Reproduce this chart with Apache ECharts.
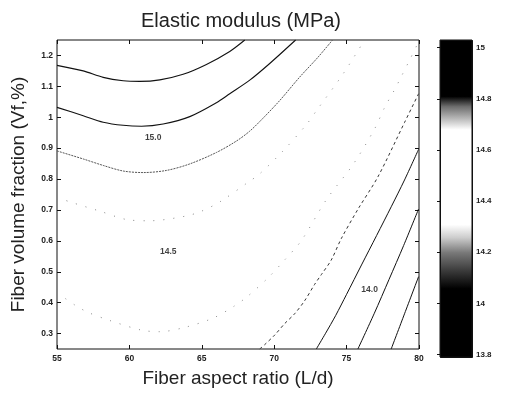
<!DOCTYPE html>
<html>
<head>
<meta charset="utf-8">
<script src="https://cdn.jsdelivr.net/npm/echarts@6/dist/echarts.min.js"></script>
<style>html,body{margin:0;padding:0;background:#fff}#c{width:505px;height:393px}</style>
</head>
<body>
<div id="c"></div>
<script>
// ---- data ----
const xTicks = [55, 60, 65, 70, 75, 80];
const yTicks = [0.3, 0.4, 0.5, 0.6, 0.7, 0.8, 0.9, 1.0, 1.1, 1.2];
const cbTicks = [13.8, 14.0, 14.2, 14.4, 14.6, 14.8, 15.0];
const levels = [15.0, 14.9, 14.8, 14.7, 14.3, 14.2, 14.1, 14.0, 13.9];

const c150 = [[55.0,1.168],[56.81,1.150],[58.19,1.129],[59.57,1.118],[60.72,1.116],[62.10,1.121],[63.71,1.139],[65.32,1.171],[66.93,1.213],[67.97,1.25]];
const c149 = [[55.0,1.032],[56.81,1.005],[58.19,0.984],[59.57,0.974],[60.84,0.971],[62.33,0.978],[64.17,1.002],[66.01,1.047],[66.93,1.076],[68.31,1.120],[69.69,1.174],[71.48,1.25]];
const c148 = [[55.0,0.891],[56.81,0.865],[58.19,0.844],[59.57,0.826],[60.95,0.821],[62.57,0.828],[64.17,0.849],[66.01,0.886],[67.39,0.923],[68.31,0.955],[69.23,0.997],[70.38,1.054],[71.76,1.130],[73.00,1.193],[74.03,1.25]];
const c147 = [[55.0,0.741],[55.90,0.726],[57.97,0.696],[59.92,0.668],[61.41,0.665],[63.88,0.680],[64.98,0.696],[66.24,0.726],[68.15,0.788],[69.0,0.817],[70.61,0.891],[72.22,0.976],[73.02,1.028],[74.74,1.139],[76.24,1.25]];
const c143 = [[55.0,0.430],[55.55,0.414],[56.24,0.392],[57.12,0.369],[58.66,0.342],[60.84,0.311],[62.10,0.306],[63.83,0.320],[65.78,0.350],[67.21,0.388],[68.15,0.420],[69.57,0.480],[70.72,0.538],[71.88,0.601],[73.60,0.733],[75.43,0.846],[76.93,0.962],[77.62,1.031],[78.31,1.089],[78.77,1.131],[79.34,1.184],[79.97,1.244]];
const c142 = [[69.0,0.25],[69.34,0.264],[70.03,0.295],[70.72,0.332],[71.41,0.364],[72.10,0.406],[72.79,0.459],[73.26,0.491],[73.94,0.538],[74.63,0.607],[75.78,0.702],[77.16,0.807],[79.0,0.983],[79.97,1.076]];
const c141 = [[72.91,0.25],[73.55,0.301],[74.24,0.358],[75.0,0.427],[76.03,0.522],[77.07,0.617],[78.10,0.712],[79.0,0.797],[79.97,0.896]];
const c140 = [[75.78,0.25],[76.90,0.364],[77.93,0.475],[78.94,0.585],[79.97,0.703]];
const c139 = [[78.08,0.25],[79.0,0.364],[79.97,0.484]];

const labelText = ['15.0', '14.5', '14.0'];
const labelPos = [[61.64,0.934],[62.68,0.564],[76.59,0.443]];

// ---- styles ----
const contourData = [c150, c149, c148, c147, c143, c142, c141, c140, c139];
const lineStyles = {
  '15':   {color:'#111', type:'solid', width:1.1},
  '14.9': {color:'#111', type:'solid', width:1.1},
  '14.8': {color:'#555', type:[2,1], width:1},
  '14.7': {color:'#888', type:[1,9], width:1},
  '14.3': {color:'#888', type:[1,9], width:1},
  '14.2': {color:'#333', type:[3,3], width:1},
  '14.1': {color:'#111', type:'solid', width:1},
  '14':   {color:'#111', type:'solid', width:1},
  '13.9': {color:'#111', type:'solid', width:1}
};
const cbMin = 13.79, cbMax = 15.03;
const grayStops = [[13.79,0],[14.06,0],[14.12,50],[14.20,120],[14.26,205],[14.31,255],[14.68,255],[14.72,190],[14.77,110],[14.81,0],[15.03,0]];
const gradStops = grayStops.slice().reverse().map(s => ({
  offset: (cbMax - s[0]) / (cbMax - cbMin),
  color: 'rgb(' + s[1] + ',' + s[1] + ',' + s[1] + ')'
}));

const FONT = 'Liberation Sans, Arial, Helvetica, sans-serif';
const tickLbl = {fontSize:8.5, fontWeight:'bold', color:'#222', fontFamily:FONT};

const series = contourData.map((d, i) => {
  const st = lineStyles[String(levels[i])];
  return {
    type:'line', name:String(levels[i]), data:d, xAxisIndex:0, yAxisIndex:0,
    showSymbol:false, symbol:'none', smooth:0.3, silent:true,
    lineStyle:{color:st.color, type:st.type, width:st.width}
  };
});
series.push({
  type:'scatter', xAxisIndex:0, yAxisIndex:0, symbolSize:0, silent:true,
  data: labelPos.map((p,i)=>({value:p, name:labelText[i]})),
  label:{show:true, position:'inside', formatter:p=>p.name, fontSize:8.5, fontWeight:'bold', color:'#111', fontFamily:FONT}
});

const chart = echarts.init(document.getElementById('c'), null, {renderer:'canvas'});
chart.setOption({
  backgroundColor:'#fff',
  animation:false,
  title:{text:'Elastic modulus (MPa)', left:241, top:11, textAlign:'center', padding:0,
    textStyle:{fontSize:20, fontWeight:'normal', color:'#222', fontFamily:FONT}},
  grid:[
    {left:57, top:40, width:362, height:316, show:true, borderColor:'#111', borderWidth:1, backgroundColor:'transparent'},
    {left:440, top:40, width:32, height:317, show:true, borderColor:'#111', borderWidth:1, backgroundColor:'transparent', z:5}
  ],
  graphic:[{
    type:'rect', left:440, top:40, z:1, silent:true,
    shape:{width:32, height:317},
    style:{fill:new echarts.graphic.LinearGradient(0,0,0,1,gradStops), stroke:'#111', lineWidth:1}
  }],
  xAxis:[
    {type:'value', gridIndex:0, min:55, max:80, interval:5, position:'bottom',
      axisLine:{show:false}, splitLine:{show:false},
      axisTick:{inside:true, length:4, lineStyle:{color:'#111'}},
      axisLabel:{...tickLbl, margin:5},
      name:'Fiber aspect ratio (L/d)', nameLocation:'middle', nameGap:20,
      nameTextStyle:{fontSize:19, color:'#222', fontFamily:FONT}},
    {type:'value', gridIndex:0, min:55, max:80, interval:5, position:'top',
      axisLine:{show:false}, splitLine:{show:false},
      axisTick:{inside:true, length:4, lineStyle:{color:'#111'}}, axisLabel:{show:false}},
    {type:'value', gridIndex:1, min:0, max:1, show:false}
  ],
  yAxis:[
    {type:'value', gridIndex:0, min:0.25, max:1.25, position:'left',
      axisLine:{show:false}, splitLine:{show:false},
      axisTick:{inside:true, length:4, customValues:yTicks, lineStyle:{color:'#111'}},
      axisLabel:{...tickLbl, margin:4, customValues:yTicks, formatter:v=>String(Math.round(v*10)/10)},
      name:'Fiber volume fraction (Vf,%)', nameLocation:'middle', nameGap:29,
      nameTextStyle:{fontSize:19, color:'#222', fontFamily:FONT}},
    {type:'value', gridIndex:0, min:0.25, max:1.25, position:'right',
      axisLine:{show:false}, splitLine:{show:false},
      axisTick:{inside:true, length:4, customValues:yTicks, lineStyle:{color:'#111'}},
      axisLabel:{show:false}},
    {type:'value', gridIndex:1, min:cbMin, max:cbMax, position:'right',
      axisLine:{show:false}, splitLine:{show:false},
      axisTick:{inside:true, length:3, customValues:cbTicks, lineStyle:{color:'#111'}},
      axisLabel:{fontSize:8, fontWeight:'bold', color:'#222', fontFamily:FONT, margin:4, customValues:cbTicks, formatter:v=>String(Math.round(v*10)/10)}}
  ],
  series:series
});
</script>
</body>
</html>
